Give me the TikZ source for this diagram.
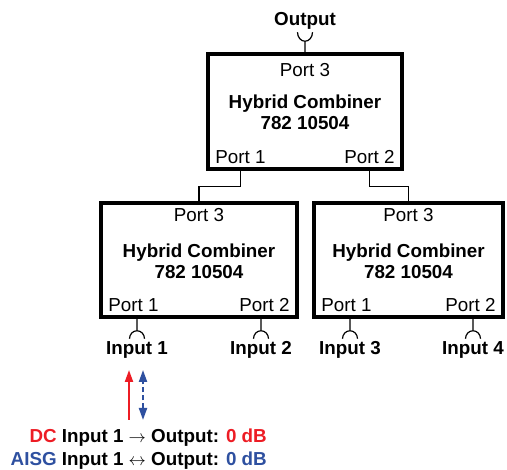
\documentclass[tikz,border=0pt]{standalone}
\usepackage{fontspec}
\setmainfont{Liberation Sans}
\usepackage{xcolor}
\usetikzlibrary{calc,arrows.meta}

\definecolor{dcred}{RGB}{237,28,36}
\definecolor{aisgblue}{RGB}{46,80,160}

\begin{document}
\begin{tikzpicture}[x=1pt,y=1pt,
  combiner/.style={draw,line width=3.5pt,inner sep=0pt,minimum height=114pt},
  wire/.style={line width=1.2pt},
  txt/.style={inner sep=0pt,anchor=base,font=\fontsize{18.8}{22}\selectfont},
  bold/.style={txt,font=\fontsize{18.8}{22}\selectfont\bfseries}]
  \useasboundingbox (0,0) rectangle (507,470);

  % the three combiners
  \node[combiner,minimum width=194pt,minimum height=115pt] (hcTop) at (305,358.5) {};
  \node[combiner,minimum width=196pt] (hcLeft) at (199,210) {};
  \node[combiner,minimum width=189pt] (hcRight) at (408.5,210) {};
  \foreach \b/\d in {hcTop/24.5,hcLeft/20.5,hcRight/20.5} {
    \node[bold] (\b-name) at ($(\b.center)+(0,2.5)$) {Hybrid Combiner};
    \node[bold] (\b-num) at ($(\b.center)+(0,-18.5)$) {782 10504};
    \node[txt] (\b-p3) at ($(\b.north)+(0,-\d)$) {Port 3};
    \node[txt,anchor=base west] (\b-p1) at ($(\b.south west)+(9,7.5)$) {Port 1};
    \node[txt,anchor=base east] (\b-p2) at ($(\b.south east)+(-9,7.5)$) {Port 2};
  }

  % output
  \node[bold] (out) at (305,444) {Output};
  \draw[wire] (hcTop.north) -- ++(0,11) ++(-7.5,9)
    arc[start angle=180,end angle=360,x radius=7.5,y radius=9];

  % top combiner to the two lower ones
  \draw[wire] (hcTop-p1.south |- hcTop.south) -- ++(0,-16) -| (hcLeft.north);
  \draw[wire] (hcTop-p2.south |- hcTop.south) -- ++(0,-16) -| (hcRight.north);

  % inputs
  \foreach \i/\x/\b in {1/137/hcLeft,2/261/hcLeft,3/350/hcRight,4/473/hcRight} {
    \node[bold] (in\i) at (\x,115) {Input \i};
    \draw[wire] (\b.south -| in\i) -- ++(0,-12) ++(-7.5,-8)
      arc[start angle=180,end angle=0,x radius=7.5,y radius=8];
  }

  % signal paths
  \coordinate (dcTail) at (129,50);
  \coordinate (dcHead) at (129,100);
  \coordinate (aisgA) at (143,50);
  \coordinate (aisgB) at (143,100);
  \draw[-{Triangle[length=12pt,width=8pt]},dcred,line width=2pt] (dcTail) -- (dcHead);
  \draw[{Triangle[length=12pt,width=8pt]}-{Triangle[length=12pt,width=8pt]},aisgblue,
    line width=2pt,dash pattern=on 5pt off 3pt] (aisgA) -- (aisgB);

  \node[bold,anchor=base east] (dc) at (267,27)
    {\textcolor{dcred}{DC} Input 1 $\rightarrow$ Output: \textcolor{dcred}{0 dB}};
  \node[bold,anchor=base east] (aisg) at (267,4)
    {\textcolor{aisgblue}{AISG} Input 1 $\leftrightarrow$ Output: \textcolor{aisgblue}{0 dB}};
\end{tikzpicture}
\end{document}
